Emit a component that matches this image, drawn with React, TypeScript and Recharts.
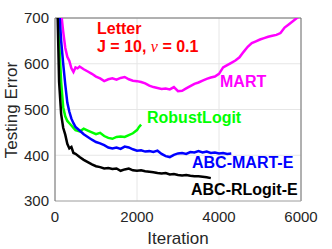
import { LineChart, Line, XAxis, YAxis, CartesianGrid, ReferenceLine } from 'recharts'

const X_TICKS = [0, 2000, 4000, 6000]
const Y_TICKS = [300, 400, 500, 600, 700]

const MART_ITER = [100, 150, 200, 250, 300, 350, 400, 450, 500, 550, 600, 700, 800, 900, 1000, 1100, 1200, 1300, 1400, 1500, 1600, 1700, 1800, 1900, 2000, 2100, 2200, 2300, 2400, 2500, 2600, 2700, 2800, 2900, 3000, 3100, 3200, 3300, 3400, 3500, 3600, 3700, 3800, 3900, 4000, 4100, 4200, 4300, 4400, 4500, 4600, 4700, 4800, 4900, 5000, 5100, 5200, 5300, 5400, 5500, 5600, 5700, 5800, 5900, 5950]
const MART_ERR = [790, 712, 670, 635, 615, 606, 590, 582, 592, 590, 594, 588, 583, 578, 572, 568, 562, 566, 568, 565, 569, 571, 566, 563, 562, 560, 557, 552, 549, 547, 545, 546, 544, 549, 540, 541, 546, 551, 556, 559, 563, 567, 570, 572, 578, 592, 597, 602, 607, 614, 626, 637, 645, 649, 653, 656, 659, 661, 663, 667, 679, 686, 693, 700, 703]

const RLOGIT_ITER = [50, 100, 150, 200, 250, 300, 350, 400, 450, 500, 600, 700, 800, 900, 1000, 1100, 1200, 1300, 1400, 1500, 1600, 1700, 1800, 1900, 2000, 2050, 2100]
const RLOGIT_ERR = [800, 650, 560, 505, 485, 475, 470, 465, 460, 455, 452, 458, 454, 450, 446, 449, 442, 438, 436, 440, 441, 440, 444, 448, 455, 462, 467]

const ABCMART_ITER = [50, 100, 150, 200, 250, 300, 350, 400, 450, 500, 600, 700, 800, 900, 1000, 1100, 1200, 1300, 1400, 1500, 1600, 1700, 1800, 1900, 2000, 2100, 2200, 2300, 2400, 2500, 2600, 2700, 2800, 2900, 3000, 3100, 3200, 3300, 3400, 3500, 3600, 3700, 3800, 3900, 4000, 4100, 4200, 4300]
const ABCMART_ERR = [850, 720, 650, 600, 555, 515, 495, 480, 470, 462, 454, 446, 440, 434, 429, 426, 422, 417, 415, 417, 414, 419, 417, 413, 410, 411, 408, 409, 407, 410, 403, 398, 396, 401, 404, 405, 403, 407, 406, 409, 406, 408, 405, 406, 404, 405, 403, 404]

const ABCRLOGIT_ITER = [50, 100, 150, 200, 250, 300, 350, 400, 450, 500, 600, 700, 800, 900, 1000, 1100, 1200, 1300, 1400, 1500, 1600, 1700, 1800, 1900, 2000, 2100, 2200, 2300, 2400, 2500, 2600, 2700, 2800, 2900, 3000, 3100, 3200, 3300, 3400, 3500, 3600, 3700, 3800]
const ABCRLOGIT_ERR = [760, 560, 490, 460, 445, 425, 415, 418, 405, 403, 396, 390, 385, 380, 376, 374, 371, 372, 370, 371, 366, 369, 371, 367, 366, 367, 365, 364, 363, 361, 360, 361, 358, 359, 357, 356, 357, 355, 354, 354, 353, 352, 350]

const zip = (xs: number[], ys: number[]) => xs.map((x, i) => ({ x, y: ys[i] }))

const series = [
  { name: 'MART', data: zip(MART_ITER, MART_ERR), color: '#ff00ff' },
  { name: 'RobustLogit', data: zip(RLOGIT_ITER, RLOGIT_ERR), color: '#00ff00' },
  { name: 'ABC-MART-E', data: zip(ABCMART_ITER, ABCMART_ERR), color: '#0000ff' },
  { name: 'ABC-RLogit-E', data: zip(ABCRLOGIT_ITER, ABCRLOGIT_ERR), color: '#000000' },
]

const FONT = '"Liberation Sans", Arial, Helvetica, sans-serif'
const TEXT = '#262626'
const BOX = '#6e6e6e'

export default function App() {
  return (
    <div style={{ position: 'relative', width: 332, height: 249, background: '#fff' }}>
      <style>{`body{margin:0}`}</style>
      <LineChart width={332} height={249} margin={{ top: 18, right: 31, bottom: 0, left: 0 }}>
        <CartesianGrid stroke="#e6e6e6" />
        <XAxis
          type="number"
          dataKey="x"
          domain={[0, 6000]}
          ticks={X_TICKS}
          height={48}
          tickSize={0}
          tickMargin={10}
          stroke="#a8a8a8"
          tick={{ fill: TEXT, fontSize: 15, fontFamily: FONT }}
        />
        <YAxis
          type="number"
          dataKey="y"
          domain={[300, 700]}
          ticks={Y_TICKS}
          allowDataOverflow
          width={55}
          tickSize={0}
          tickMargin={6}
          stroke={BOX}
          tick={{ fill: TEXT, fontSize: 15, fontFamily: FONT }}
        />
        <ReferenceLine y={700} stroke={BOX} />
        <ReferenceLine x={6000} stroke={BOX} />
        {series.map((s) => (
          <Line
            key={s.name}
            data={s.data}
            dataKey="y"
            stroke={s.color}
            strokeWidth={2.5}
            dot={false}
            isAnimationActive={false}
          />
        ))}
      </LineChart>
      <svg width={332} height={249} style={{ position: 'absolute', left: 0, top: 0, pointerEvents: 'none' }}>
        <g fontFamily={FONT} fontWeight="bold" fontSize={16}>
          <text x={97} y={34} fill="#ff0000">Letter</text>
          <text x={97} y={52} fill="#ff0000">
            J = 10,{' '}
            <tspan fontFamily='"Liberation Serif", serif' fontStyle="italic" fontWeight="normal">ν</tspan> = 0.1
          </text>
          <text x={220} y={87} fill="#ff00ff">MART</text>
          <text x={147} y={123} fill="#00ff00">RobustLogit</text>
          <text x={192} y={168} fill="#0000ff">ABC-MART-E</text>
          <text x={191} y={195} fill="#000000">ABC-RLogit-E</text>
        </g>
        <g fontFamily={FONT} fontSize={17} fill={TEXT}>
          <text x={178} y={244} textAnchor="middle">Iteration</text>
          <text x={17} y={110} textAnchor="middle" transform="rotate(-90 17 110)">Testing Error</text>
        </g>
      </svg>
    </div>
  )
}
